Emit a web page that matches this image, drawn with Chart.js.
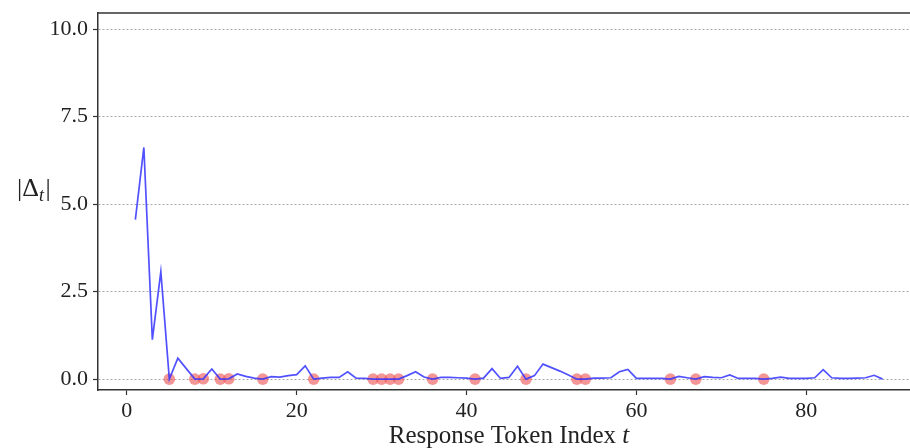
<!DOCTYPE html>
<html><head><meta charset="utf-8">
<script src="https://cdn.jsdelivr.net/npm/chart.js@4.4.1/dist/chart.umd.min.js"></script>
<style>
html,body{margin:0;padding:0;background:#fff;overflow:hidden;width:910px;height:448px}
#wrap{width:930px;height:448px;position:relative}
</style></head>
<body><div id="wrap"><canvas id="c" width="930" height="448"></canvas></div>
<script>
const tokenIndex = [];
for (let t = 1; t <= 89; t++) tokenIndex.push(t);
const deltaAbs = [
  4.56, 6.62, 1.13, 3.07, 0.00, 0.60, 0.30, 0.00, 0.01, 0.29,
  0.00, 0.01, 0.15, 0.08, 0.03, 0.00, 0.07, 0.06, 0.10, 0.13,
  0.38, 0.00, 0.03, 0.05, 0.05, 0.21, 0.03, 0.02, 0.00, 0.00,
  0.00, 0.00, 0.10, 0.21, 0.06, 0.00, 0.05, 0.05, 0.04, 0.03,
  0.00, 0.03, 0.30, 0.02, 0.05, 0.37, 0.00, 0.10, 0.43, 0.33,
  0.23, 0.12, 0.00, 0.00, 0.03, 0.03, 0.04, 0.21, 0.28, 0.02,
  0.02, 0.02, 0.02, 0.00, 0.08, 0.04, 0.00, 0.07, 0.05, 0.04,
  0.12, 0.02, 0.02, 0.02, 0.00, 0.02, 0.06, 0.02, 0.02, 0.02,
  0.04, 0.27, 0.04, 0.02, 0.02, 0.03, 0.04, 0.11, 0.00
];
const markedTokens = [5, 8, 9, 11, 12, 16, 22, 29, 30, 31, 32, 36, 41, 47, 53, 54, 64, 67, 75];
const xTickValues = [0, 20, 40, 60, 80];
const yTickValues = [0, 2.5, 5, 7.5, 10];

const linePoints = tokenIndex.map((t, i) => ({x: t, y: deltaAbs[i]}));
const markerPoints = markedTokens.map(t => ({x: t, y: deltaAbs[t - 1]}));

const FONT = '"Liberation Serif", "Times New Roman", serif';
const SPINE = '#333333';

const extras = {
  id: 'extras',
  afterDraw(chart) {
    const {ctx, chartArea: a} = chart;
    ctx.save();
    // top spine
    ctx.strokeStyle = SPINE; ctx.lineWidth = 1.5;
    ctx.beginPath(); ctx.moveTo(a.left, a.top); ctx.lineTo(a.right + 20, a.top); ctx.stroke();
    // y label |Δ_t|
    ctx.fillStyle = '#222';
    ctx.textBaseline = 'alphabetic';
    ctx.textAlign = 'left';
    let x = 17, y = 196;
    ctx.font = '26px ' + FONT;
    ctx.fillText('|Δ', x, y); x += ctx.measureText('|Δ').width;
    ctx.font = 'italic 18px ' + FONT;
    ctx.fillText('t', x, y + 5); x += ctx.measureText('t').width + 1.5;
    ctx.font = '26px ' + FONT;
    ctx.fillText('|', x, y);
    // x title
    const main = 'Response Token Index ';
    ctx.font = '25px ' + FONT;
    const w1 = ctx.measureText(main).width;
    ctx.font = 'italic 25px ' + FONT;
    const w2 = ctx.measureText('t').width;
    let sx = (a.left + a.right) / 2 - (w1 + w2) / 2;
    const by = 443;
    ctx.font = '25px ' + FONT;
    ctx.fillText(main, sx, by);
    ctx.font = 'italic 25px ' + FONT;
    ctx.fillText('t', sx + w1, by);
    ctx.restore();
  }
};

new Chart(document.getElementById('c'), {
  type: 'line',
  data: {
    datasets: [
      {
        type: 'line', data: linePoints, order: 0,
        borderColor: 'rgba(50,50,255,0.85)', borderWidth: 1.7,
        pointRadius: 0, tension: 0, fill: false
      },
      {
        type: 'scatter', data: markerPoints, order: 1,
        backgroundColor: 'rgba(238,80,80,0.6)', borderWidth: 0,
        pointRadius: 5.8, pointHoverRadius: 5.8
      }
    ]
  },
  options: {
    responsive: false,
    animation: false,
    events: [],
    layout: {padding: {left: 0, top: 13, right: 10, bottom: 0}},
    plugins: {legend: {display: false}, tooltip: {enabled: false}},
    scales: {
      x: {
        type: 'linear', min: -3.4, max: 93.4,
        afterBuildTicks(s) { s.ticks = xTickValues.map(v => ({value: v})); },
        afterFit(s) { s.height = 58; s.paddingLeft = 0; s.paddingRight = 0; },
        grid: {display: true, drawOnChartArea: false, drawTicks: true, tickLength: 5, tickColor: SPINE, tickWidth: 1.2},
        border: {display: true, color: SPINE, width: 1.5},
        ticks: {color: '#222', font: {family: FONT, size: 22}, padding: 3, maxRotation: 0,
                callback: v => String(v)}
      },
      y: {
        type: 'linear', min: -0.31, max: 10.46,
        afterBuildTicks(s) { s.ticks = yTickValues.map(v => ({value: v})); },
        afterFit(s) { s.width = 98; s.paddingTop = 0; s.paddingBottom = 0; },
        grid: {display: true, drawOnChartArea: true, drawTicks: true, tickLength: 5,
               color: '#a8a8a8', lineWidth: 1,
               tickColor: SPINE, tickWidth: 1.2, tickBorderDash: []},
        border: {display: true, color: SPINE, width: 1.5, dash: [2, 2]},
        ticks: {color: '#222', font: {family: FONT, size: 22}, padding: 5,
                callback: v => Number(v).toFixed(1)}
      }
    }
  },
  plugins: [extras]
});
</script>
</body></html>
